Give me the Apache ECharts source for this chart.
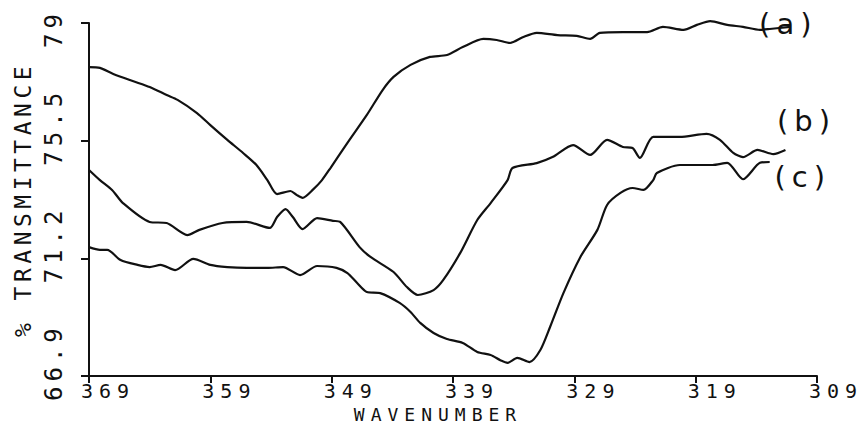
<!DOCTYPE html>
<html>
<head>
<meta charset="utf-8">
<script src="https://cdn.jsdelivr.net/npm/echarts@6/dist/echarts.min.js"></script>
<style>
html,body{margin:0;padding:0;background:#ffffff;}
#chart{width:864px;height:435px;}
#chart svg text[style*="xlabfont"]{letter-spacing:6px;}
#chart svg text[style*="ylabfont"]{letter-spacing:5px;}
#chart svg text[style*="xnamefont"]{letter-spacing:6px;}
#chart svg text[style*="ynamefont"]{letter-spacing:4.5px;}
#chart svg text[style*="serlabfont"]{letter-spacing:6px;}
</style>
</head>
<body>
<div id="chart"></div>
<script>
// ---- data ----
const xTickValues = [369, 359, 349, 339, 329, 319, 309];
const xTickLabels = ['369', '359', '349', '339', '329', '319', '309'];
const yTickValues = [66.9, 71.2, 75.5, 79.8];
const yTickLabels = ['66.9', '71.2', '75.5', '79'];
const seriesNames = ['(a)', '(b)', '(c)'];

const wavenumberA = [369.0, 368.1, 367.0, 365.4, 364.0, 362.6, 361.7, 360.1, 359.0, 357.6, 356.3, 355.2, 354.3, 353.5, 352.4, 351.9, 351.4, 350.5, 349.8, 349.1, 347.7, 346.1, 344.8, 343.9, 342.5, 340.9, 339.5, 338.2, 336.5, 335.4, 334.3, 333.2, 332.1, 330.4, 328.8, 327.7, 326.9, 325.0, 323.0, 321.7, 320.0, 318.9, 317.8, 316.4, 315.1, 313.7, 312.9, 311.2];
const transA = [78.19, 78.16, 77.94, 77.68, 77.46, 77.17, 76.99, 76.51, 76.07, 75.53, 75.05, 74.61, 74.06, 73.55, 73.66, 73.52, 73.41, 73.73, 74.06, 74.50, 75.42, 76.44, 77.35, 77.83, 78.27, 78.56, 78.63, 78.92, 79.22, 79.18, 79.07, 79.29, 79.44, 79.36, 79.33, 79.22, 79.44, 79.47, 79.47, 79.66, 79.55, 79.73, 79.87, 79.73, 79.66, 79.55, 79.58, 79.66];

const wavenumberB = [369.0, 368.1, 367.1, 366.2, 364.0, 362.6, 360.9, 359.9, 358.0, 356.0, 354.1, 353.5, 352.8, 352.2, 351.4, 350.2, 348.9, 348.3, 346.7, 345.8, 343.9, 342.8, 341.9, 340.6, 339.8, 338.4, 337.0, 335.9, 334.5, 334.1, 332.1, 330.8, 329.1, 327.7, 326.3, 325.0, 324.2, 323.6, 322.5, 320.3, 318.1, 317.0, 315.9, 315.1, 313.9, 312.6, 311.6];
const transB = [74.43, 74.06, 73.70, 73.22, 72.53, 72.49, 72.05, 72.24, 72.49, 72.53, 72.31, 72.71, 73.00, 72.71, 72.27, 72.67, 72.57, 72.53, 71.61, 71.25, 70.70, 70.15, 69.86, 70.04, 70.41, 71.40, 72.60, 73.22, 74.06, 74.50, 74.68, 74.90, 75.34, 74.98, 75.53, 75.27, 75.23, 74.87, 75.64, 75.64, 75.75, 75.53, 75.05, 74.90, 75.16, 75.01, 75.16];

const wavenumberC = [369.0, 368.1, 367.5, 366.4, 365.0, 364.0, 363.1, 361.9, 360.4, 359.0, 357.6, 356.0, 354.3, 353.0, 351.6, 350.2, 348.6, 347.7, 346.9, 346.1, 345.0, 343.4, 342.5, 341.7, 340.6, 339.5, 338.2, 337.0, 335.9, 335.1, 334.5, 333.7, 332.7, 331.8, 331.0, 329.9, 328.5, 327.1, 326.3, 325.2, 324.2, 323.3, 322.5, 322.2, 320.3, 317.6, 316.4, 315.1, 313.7, 312.9];
const transC = [71.61, 71.51, 71.51, 71.14, 70.96, 70.88, 70.96, 70.77, 71.18, 70.96, 70.88, 70.85, 70.85, 70.88, 70.59, 70.92, 70.85, 70.66, 70.30, 69.97, 69.93, 69.57, 69.24, 68.84, 68.47, 68.25, 68.11, 67.78, 67.67, 67.48, 67.38, 67.56, 67.41, 67.85, 68.69, 69.93, 71.25, 72.24, 73.15, 73.59, 73.77, 73.70, 74.06, 74.32, 74.61, 74.61, 74.69, 74.09, 74.69, 74.72];

// ---- chart ----
const ink = '#111111';
function monoFont(tag) { return '"DejaVu Sans Mono", "Liberation Mono", ' + tag + ', monospace'; }

function pairs(xs, ys) { return xs.map((x, i) => [x, ys[i]]); }

function lineSeries(name, xs, ys, labelOffset) {
  const pts = pairs(xs, ys);
  return {
    name: name,
    type: 'line',
    data: pts,
    showSymbol: false,
    symbol: 'none',
    smooth: 0.25,
    clip: false,
    lineStyle: { color: ink, width: 2.2 },
    markPoint: {
      silent: true,
      symbol: 'circle',
      symbolSize: 1,
      itemStyle: { color: 'rgba(0,0,0,0)' },
      label: {
        show: true,
        position: 'inside',
        formatter: name,
        offset: labelOffset,
        color: ink,
        fontFamily: '"DejaVu Sans", serlabfont, sans-serif',
        fontSize: 29
      },
      data: [{ coord: pts[pts.length - 1] }]
    }
  };
}

const chart = echarts.init(document.getElementById('chart'), null, { renderer: 'svg' });
chart.setOption({
  animation: false,
  backgroundColor: '#ffffff',
  grid: { left: 89, right: 47, top: 23, bottom: 59 },
  xAxis: {
    type: 'value',
    inverse: true,
    min: 309,
    max: 369,
    interval: 10,
    name: 'WAVENUMBER',
    nameLocation: 'middle',
    nameGap: 25,
    nameTextStyle: { fontFamily: monoFont('xnamefont'), fontSize: 18, color: ink, padding: [0, 30, 0, 0] },
    axisLine: { show: true, onZero: false, lineStyle: { color: ink, width: 2 } },
    axisTick: { show: true, length: 7, lineStyle: { color: ink, width: 2 } },
    axisLabel: {
      color: ink, margin: 5,
      align: 'right',
      width: 8,
      overflow: 'none',
      formatter: function (v) {
        const i = xTickValues.indexOf(Math.round(v));
        return i >= 0 ? '{t|' + xTickLabels[i] + '}' : '';
      },
      rich: { t: { align: 'left', fontFamily: monoFont('xlabfont'), fontSize: 20, color: ink } }
    },
    splitLine: { show: false }
  },
  yAxis: {
    type: 'value',
    min: 66.9,
    max: 79.8,
    interval: 4.3,
    name: '% TRANSMITTANCE',
    nameLocation: 'middle',
    nameGap: 53,
    nameTextStyle: { fontFamily: monoFont('ynamefont'), fontSize: 23, color: ink },
    axisLine: { show: true, onZero: false, lineStyle: { color: ink, width: 2 } },
    axisTick: { show: true, length: 8, lineStyle: { color: ink, width: 2 } },
    axisLabel: {
      rotate: 90,
      color: ink, margin: 23,
      align: 'right',
      width: 25,
      overflow: 'none',
      formatter: function (v) {
        let best = 0;
        yTickValues.forEach((t, i) => { if (Math.abs(t - v) < Math.abs(yTickValues[best] - v)) best = i; });
        return '{t|' + yTickLabels[best] + '}';
      },
      rich: { t: { align: 'left', fontFamily: monoFont('ylabfont'), fontSize: 24, color: ink } }
    },
    splitLine: { show: false }
  },
  series: [
    lineSeries(seriesNames[0], wavenumberA, transA, [-2, -3]),
    lineSeries(seriesNames[1], wavenumberB, transB, [21, -29]),
    lineSeries(seriesNames[2], wavenumberC, transC, [33, 15])
  ]
});
</script>
</body>
</html>
